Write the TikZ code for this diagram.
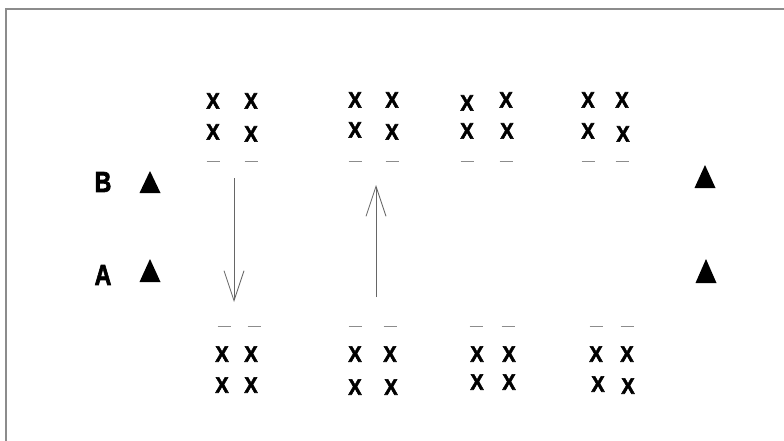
\documentclass[tikz,border=0pt]{standalone}
\usepackage{fontspec}
\setmainfont{Liberation Sans}
\newfontfamily\heavyfont[UprightFont={* Bold},FakeBold=2.6]{Liberation Sans}
\usetikzlibrary{arrows.meta}
\tikzset{
  xmark/.style={inner sep=0pt,font=\heavyfont\fontsize{20}{20}\selectfont,yscale=1.12},
  lbl/.style={inner sep=0pt,font=\heavyfont\fontsize{29}{29}\selectfont,xscale=0.8},
  bar/.style={black!45,line width=1pt},
  tri/.style={fill=black},
  arr/.style={black!60,line width=0.8pt,-{Straight Barb[length=30pt,width=20pt,line width=0.8pt]}},
  frame/.style={black!45,line width=1.4pt}
}
\newcommand{\dashbar}[3]{%
  \coordinate (#1) at (#2,#3);
  \draw[bar] ([xshift=-6.5pt]#1) -- ([xshift=6.5pt]#1);}
\newcommand{\trimark}[4]{% name, cx, top, bottom
  \coordinate (#1) at (#2,#3);
  \fill[tri] (#2-10.5,#4) -- (#2,#3) -- (#2+10.5,#4) -- cycle;}
\begin{document}
\begin{tikzpicture}[x=1pt,y=-1pt]
\useasboundingbox (0,0) rectangle (784,441);
\fill[white] (0,0) rectangle (784,441);
% frame (top and left edges only)
\coordinate (fTL) at (6,9);
\coordinate (fTR) at (784,9);
\coordinate (fBL) at (6,441);
\draw[frame] (fTR) -- (fTL) -- (fBL);

% labels
\node[lbl] (B) at (103,182) {B};
\node[lbl] (A) at (103,275) {A};
\trimark{tB}{150}{171}{193}
\trimark{tA}{150}{259}{282}
\trimark{tBr}{705}{165}{188}
\trimark{tAr}{706}{259}{283}

% top groups
\node[xmark] (t11) at (213,101) {X};
\node[xmark] (t12) at (251,101) {X};
\node[xmark] (t13) at (213,132) {X};
\node[xmark] (t14) at (251,134) {X};
\node[xmark] (t21) at (355,100) {X};
\node[xmark] (t22) at (392,100) {X};
\node[xmark] (t23) at (355,130) {X};
\node[xmark] (t24) at (392,132) {X};
\node[xmark] (t31) at (467,103) {X};
\node[xmark] (t32) at (506,100) {X};
\node[xmark] (t33) at (467,131) {X};
\node[xmark] (t34) at (507,131) {X};
\node[xmark] (t41) at (588,100) {X};
\node[xmark] (t42) at (622,100) {X};
\node[xmark] (t43) at (588,131) {X};
\node[xmark] (t44) at (623,134) {X};
\dashbar{td1}{213}{161}
\dashbar{td2}{251}{161}
\dashbar{td3}{355}{161}
\dashbar{td4}{392}{161}
\dashbar{td5}{467}{161}
\dashbar{td6}{506}{161}
\dashbar{td7}{588}{161}
\dashbar{td8}{622}{161}

% bottom groups
\dashbar{bd1}{224}{326}
\dashbar{bd2}{254}{326}
\dashbar{bd3}{355}{326}
\dashbar{bd4}{390}{326}
\dashbar{bd5}{476}{326}
\dashbar{bd6}{508}{326}
\dashbar{bd7}{596}{326}
\dashbar{bd8}{627}{326}
\node[xmark] (b11) at (222,354) {X};
\node[xmark] (b12) at (251,354) {X};
\node[xmark] (b13) at (222,385) {X};
\node[xmark] (b14) at (251,385) {X};
\node[xmark] (b21) at (355,354) {X};
\node[xmark] (b22) at (390,354) {X};
\node[xmark] (b23) at (355,387) {X};
\node[xmark] (b24) at (391,387) {X};
\node[xmark] (b31) at (477,354) {X};
\node[xmark] (b32) at (509,354) {X};
\node[xmark] (b33) at (477,382) {X};
\node[xmark] (b34) at (509,382) {X};
\node[xmark] (b41) at (596,354) {X};
\node[xmark] (b42) at (627,354) {X};
\node[xmark] (b43) at (598,384) {X};
\node[xmark] (b44) at (628,386) {X};

% arrows
\coordinate (a1s) at (234,178);
\coordinate (a1e) at (234,302);
\coordinate (a2s) at (376,297);
\coordinate (a2e) at (376,185);
\draw[arr] (a1s) -- (a1e);
\draw[arr] (a2s) -- (a2e);
\end{tikzpicture}
\end{document}
